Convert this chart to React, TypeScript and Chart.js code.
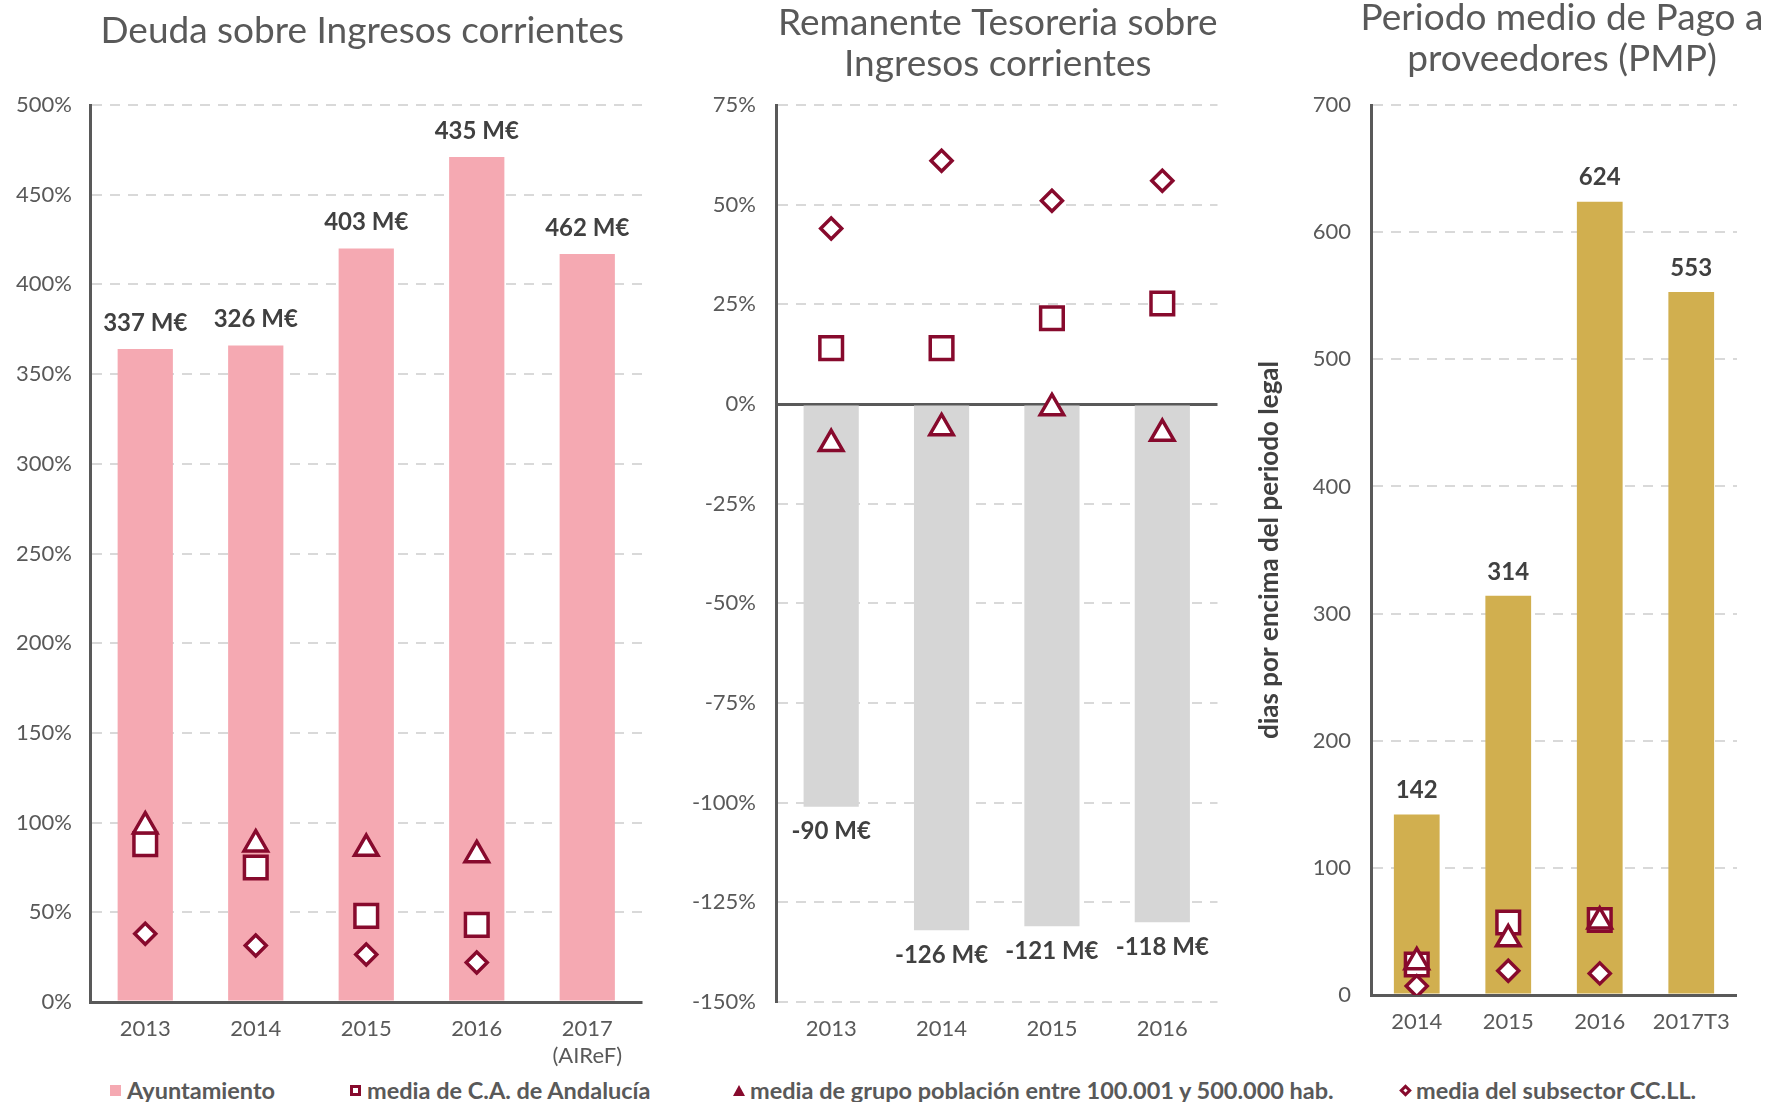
import React, { useEffect, useRef } from 'react';
import { Chart, registerables } from 'chart.js';

Chart.register(...registerables);

const FONT = 'Lato, "Open Sans", "DejaVu Sans", sans-serif';
const TEXT = '#595959';
const DARK = '#404040';
const MARK = '#870A2D';
const GRID = '#D9D9D9';
const AXIS = '#595959';
const PINK = '#F5A9B2';
const GREY = '#D6D6D6';
const GOLD = '#D1AF4F';

// ---- Deuda sobre Ingresos corrientes ----
const debtYears = ['2013', '2014', '2015', '2016', ['2017', '(AIReF)']];
const debtPct = [364, 366, 420, 471, 417];
const debtLabels = ['337 M€', '326 M€', '403 M€', '435 M€', '462 M€'];
const debtCA = [88, 75, 48, 43, null];
const debtGroup = [98, 88, 85.5, 82, null];
const debtCCLL = [38, 31.5, 26.5, 22, null];

// ---- Remanente Tesoreria sobre Ingresos corrientes ----
const rtYears = ['2013', '2014', '2015', '2016'];
const rtPct = [-101, -132, -131, -130];
const rtLabels = ['-90 M€', '-126 M€', '-121 M€', '-118 M€'];
const rtCA = [14, 14, 21.5, 25.2];
const rtGroup = [-10, -6, -1, -7.4];
const rtCCLL = [44, 61, 51, 56];

// ---- Periodo medio de Pago a proveedores ----
const pmpPeriods = ['2014', '2015', '2016', '2017T3'];
const pmpDays = [142, 314, 624, 553];
const pmpLabels = ['142', '314', '624', '553'];
const pmpCA = [24, 57, 59, null];
const pmpGroup = [26, 44, 58, null];
const pmpCCLL = [7, 19, 17, null];

const LEG_AYTO = 'Ayuntamiento';
const LEG_CA = 'media de C.A. de Andalucía';
const LEG_GROUP = 'media de grupo población entre 100.001 y 500.000 hab.';
const LEG_CCLL = 'media del subsector CC.LL.';

const barLabelPlugin = {
  id: 'barLabels',
  afterDatasetsDraw(chart: any) {
    const o = chart.options.plugins.barLabels;
    if (!o) return;
    const meta = chart.getDatasetMeta(0);
    const ctx = chart.ctx;
    ctx.save();
    ctx.font = `bold 24px ${FONT}`;
    ctx.fillStyle = DARK;
    ctx.textAlign = 'center';
    ctx.textBaseline = 'middle';
    meta.data.forEach((el: any, i: number) => {
      const v = chart.data.datasets[0].data[i];
      const y = v >= 0 ? el.y - o.offset : el.y + o.offset;
      ctx.fillText(o.labels[i], el.x, y);
    });
    ctx.restore();
  },
};

const panelTitlePlugin = {
  id: 'panelTitle',
  afterDraw(chart: any) {
    const o = chart.options.plugins.panelTitle;
    if (!o) return;
    const { left, right } = chart.chartArea;
    const ctx = chart.ctx;
    ctx.save();
    ctx.font = `${o.size}px ${FONT}`;
    ctx.fillStyle = TEXT;
    ctx.textAlign = 'center';
    ctx.textBaseline = 'middle';
    o.lines.forEach((t: string, i: number) => {
      ctx.fillText(t, (left + right) / 2 + o.dx, o.y + i * o.gap);
    });
    ctx.restore();
  },
};

function markerSet(label: string, data: (number | null)[], style: string, radius: number, order: number) {
  return {
    type: 'line',
    label,
    data,
    showLine: false,
    pointStyle: style,
    pointRadius: radius,
    pointHoverRadius: radius,
    pointBorderWidth: 3.5,
    pointBorderColor: MARK,
    pointBackgroundColor: '#ffffff',
    borderColor: MARK,
    backgroundColor: '#ffffff',
    order,
  };
}

function buildConfig(p: any) {
  return {
    type: 'bar',
    data: {
      labels: p.labels,
      datasets: [
        {
          type: 'bar',
          label: LEG_AYTO,
          data: p.bars,
          backgroundColor: p.color,
          categoryPercentage: 1,
          barPercentage: 0.5,
          order: 10,
        },
        markerSet(LEG_CA, p.ca, 'rect', 16, 3),
        markerSet(LEG_GROUP, p.group, 'triangle', 13.5, 2),
        markerSet(LEG_CCLL, p.ccll, 'rectRot', 10.5, 1),
      ],
    },
    options: {
      responsive: false,
      animation: false,
      layout: { padding: { top: 105, right: p.padRight, left: 0, bottom: 0 } },
      plugins: {
        legend: { display: false },
        tooltip: { enabled: false },
        barLabels: { labels: p.barText, offset: p.labelOffset },
        panelTitle: { lines: p.title, y: p.titleY, gap: 41, size: 37, dx: p.titleDx },
      },
      scales: {
        x: {
          offset: true,
          grid: { display: false, drawTicks: false },
          border: { display: false },
          ticks: {
            color: TEXT,
            font: { size: 22, family: FONT, lineHeight: 1.2 },
            padding: p.xPad,
            maxRotation: 0,
            autoSkip: false,
          },
          afterFit: (s: any) => {
            s.height = p.xHeight;
            s.paddingLeft = 0;
            s.paddingRight = 0;
          },
        },
        y: {
          min: p.min,
          max: p.max,
          ticks: {
            stepSize: p.step,
            color: TEXT,
            font: { size: 22, family: FONT },
            padding: p.yPad,
            callback: (v: any) => (p.pct ? `${v}%` : `${v}`),
          },
          grid: {
            drawTicks: false,
            color: (c: any) => (c.tick && c.tick.value === 0 ? AXIS : GRID),
            lineWidth: (c: any) => (c.tick && c.tick.value === 0 ? 3 : 2),
          },
          border: {
            display: true,
            color: AXIS,
            width: 3,
            dash: (c: any) => (c.type === 'tick' && c.tick && c.tick.value !== 0 ? [10, 8] : []),
          },
          title: p.yTitle
            ? {
                display: true,
                text: p.yTitle,
                color: DARK,
                font: { size: 26, weight: 'bold', family: FONT },
                padding: { top: 24, bottom: 0 },
              }
            : { display: false },
          afterFit: (s: any) => {
            s.width = p.yWidth;
          },
        },
      },
    },
    plugins: [barLabelPlugin, panelTitlePlugin],
  };
}

function Panel({ config, left, width, height }: any) {
  const ref = useRef<HTMLCanvasElement | null>(null);
  useEffect(() => {
    const chart = new Chart(ref.current as HTMLCanvasElement, config as any);
    return () => chart.destroy();
  }, []);
  return (
    <canvas
      ref={ref}
      width={width}
      height={height}
      style={{ position: 'absolute', left, top: 0, width, height }}
    />
  );
}

const debtConfig = buildConfig({
  labels: debtYears,
  bars: debtPct,
  barText: debtLabels,
  ca: debtCA,
  group: debtGroup,
  ccll: debtCCLL,
  color: PINK,
  min: 0,
  max: 500,
  step: 50,
  pct: true,
  yWidth: 90,
  padRight: 9,
  xHeight: 73,
  xPad: 14,
  yPad: 18,
  labelOffset: 26,
  title: ['Deuda sobre Ingresos corrientes'],
  titleY: 31,
  titleDx: -4,
});

const rtConfig = buildConfig({
  labels: rtYears,
  bars: rtPct,
  barText: rtLabels,
  ca: rtCA,
  group: rtGroup,
  ccll: rtCCLL,
  color: GREY,
  min: -150,
  max: 75,
  step: 25,
  pct: true,
  yWidth: 116,
  padRight: 14,
  xHeight: 73,
  xPad: 14,
  yPad: 20,
  labelOffset: 25,
  title: ['Remanente Tesoreria sobre', 'Ingresos corrientes'],
  titleY: 23,
  titleDx: 1,
});

const pmpConfig = buildConfig({
  labels: pmpPeriods,
  bars: pmpDays,
  barText: pmpLabels,
  ca: pmpCA,
  group: pmpGroup,
  ccll: pmpCCLL,
  color: GOLD,
  min: 0,
  max: 700,
  step: 100,
  pct: false,
  yWidth: 141,
  padRight: 32,
  xHeight: 80,
  xPad: 14,
  yPad: 20,
  labelOffset: 24,
  title: ['Periodo medio de Pago a', 'proveedores (PMP)'],
  titleY: 18,
  titleDx: 8,
  yTitle: 'dias por encima del periodo legal',
});

function LegendItem({ x, marker, text }: any) {
  return (
    <div style={{ position: 'absolute', left: x, top: 0, height: 26, display: 'flex', alignItems: 'center', whiteSpace: 'nowrap' }}>
      <span style={{ display: 'inline-flex', width: 17, justifyContent: 'flex-start', alignItems: 'center' }}>{marker}</span>
      <span>{text}</span>
    </div>
  );
}

export default function App() {
  return (
    <div
      style={{
        position: 'fixed',
        left: 0,
        top: 0,
        width: 1769,
        height: 1102,
        background: '#ffffff',
        overflow: 'hidden',
      }}
    >
      <Panel config={debtConfig} left={0} width={662} height={1075} />
      <Panel config={rtConfig} left={660} width={577} height={1075} />
      <Panel config={pmpConfig} left={1230} width={539} height={1075} />
      <div
        style={{
          position: 'absolute',
          left: 0,
          top: 1077,
          width: 1769,
          height: 26,
          fontFamily: FONT,
          fontWeight: 'bold',
          fontSize: 23.5,
          color: TEXT,
        }}
      >
        <LegendItem x={110} text={LEG_AYTO} marker={<span style={{ display: 'block', width: 11, height: 11, background: PINK }} />} />
        <LegendItem
          x={350}
          text={LEG_CA}
          marker={<span style={{ display: 'block', width: 11, height: 11, border: `3px solid ${MARK}`, boxSizing: 'border-box' }} />}
        />
        <LegendItem
          x={733}
          text={LEG_GROUP}
          marker={
            <span
              style={{
                display: 'block',
                width: 0,
                height: 0,
                borderLeft: '6px solid transparent',
                borderRight: '6px solid transparent',
                borderBottom: `11px solid ${MARK}`,
              }}
            />
          }
        />
        <LegendItem
          x={1399}
          text={LEG_CCLL}
          marker={
            <span
              style={{
                display: 'block',
                width: 9,
                height: 9,
                marginLeft: 2,
                border: `3px solid ${MARK}`,
                boxSizing: 'border-box',
                transform: 'rotate(45deg)',
              }}
            />
          }
        />
      </div>
    </div>
  );
}
